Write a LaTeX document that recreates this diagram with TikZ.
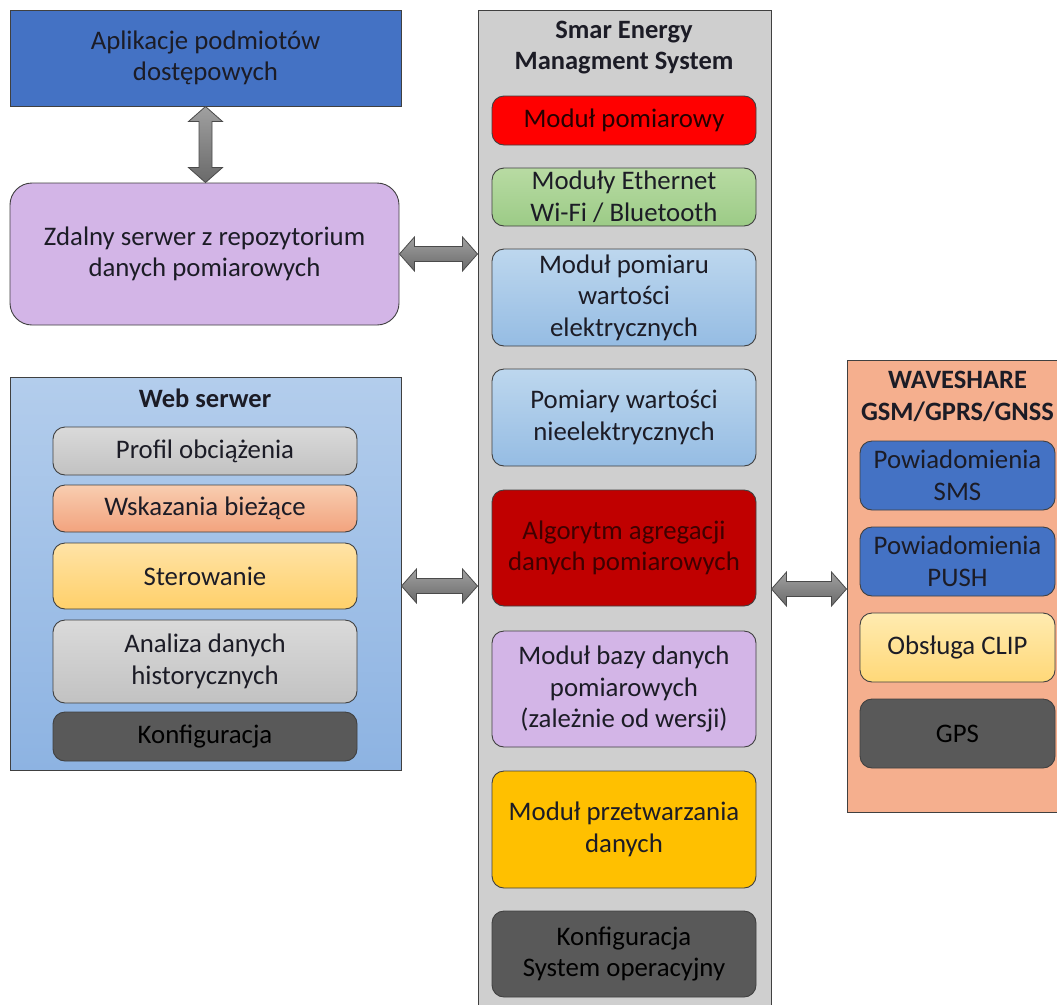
\documentclass[tikz,border=0pt]{standalone}
\usepackage{fontspec}
\setmainfont{Carlito}
\usetikzlibrary{calc}

\definecolor{ink}{HTML}{1C1C26}
\definecolor{edge}{HTML}{404040}
\definecolor{appblue}{HTML}{4472C4}
\definecolor{lavender}{HTML}{D3B5E7}
\definecolor{semsgray}{HTML}{CFCFCF}
\definecolor{webtop}{HTML}{B3CDEC}
\definecolor{webbot}{HTML}{8DB3E2}
\definecolor{wavefill}{HTML}{F5AF8E}
\definecolor{arrowtop}{HTML}{A0A0A0}
\definecolor{arrowbot}{HTML}{6A6A6A}
\definecolor{arrowline}{HTML}{4A4A4A}
\definecolor{greytop}{HTML}{DADADA}
\definecolor{greybot}{HTML}{C2C2C2}
\definecolor{salmontop}{HTML}{F8CDB0}
\definecolor{salmonbot}{HTML}{F2A37E}
\definecolor{yellowtop}{HTML}{FFE3A6}
\definecolor{yellowbot}{HTML}{FFD06A}
\definecolor{darkbox}{HTML}{595959}
\definecolor{redbox}{HTML}{FF0000}
\definecolor{darkred}{HTML}{C00000}
\definecolor{greentop}{HTML}{B8DBA3}
\definecolor{greenbot}{HTML}{9CCB86}
\definecolor{lbluetop}{HTML}{BDD7EE}
\definecolor{lbluebot}{HTML}{95BCE3}
\definecolor{gold}{HTML}{FFC000}
\definecolor{cliptop}{HTML}{FFEBB0}
\definecolor{clipbot}{HTML}{FFD878}

\tikzset{
  panel/.style={draw=edge, line width=1pt, inner sep=0pt, align=center, text=ink},
  mod/.style={draw=edge, line width=0.9pt, rounded corners=12pt, inner sep=0pt,
              align=center, text=ink},
  heading/.style={align=center, text=ink, font=\fontsize{26.5}{31.5}\selectfont\bfseries},
  dblarrow/.style={draw=arrowline, line width=0.8pt, top color=arrowtop, bottom color=arrowbot},
  greybox/.style={top color=greytop, bottom color=greybot},
  bluebox/.style={top color=lbluetop, bottom color=lbluebot},
  semsbox/.style={mod, minimum width=264pt},
  webbox/.style={mod, minimum width=304pt},
  wavebox/.style={mod, minimum width=195pt, minimum height=69pt},
}

% double-headed block arrow between two points at the same height
\newcommand\hdblarrow[2]{%
  \path[dblarrow] let \p1=(#1), \p2=(#2) in
    (\x1,\y1) -- (\x1+15pt,\y1+17pt) -- (\x1+15pt,\y1+7.5pt) -- (\x2-15pt,\y1+7.5pt)
    -- (\x2-15pt,\y1+17pt) -- (\x2,\y1) -- (\x2-15pt,\y1-17pt) -- (\x2-15pt,\y1-7.5pt)
    -- (\x1+15pt,\y1-7.5pt) -- (\x1+15pt,\y1-17pt) -- cycle;}
% double-headed block arrow between two points on the same vertical
\newcommand\vdblarrow[2]{%
  \path[dblarrow] let \p1=(#1), \p2=(#2) in
    (\x1,\y1) -- (\x1+17pt,\y1-15pt) -- (\x1+6.5pt,\y1-15pt) -- (\x1+6.5pt,\y2+15pt)
    -- (\x1+17pt,\y2+15pt) -- (\x1,\y2) -- (\x1-17pt,\y2+15pt) -- (\x1-6.5pt,\y2+15pt)
    -- (\x1-6.5pt,\y1-15pt) -- (\x1-17pt,\y1-15pt) -- cycle;}

\begin{document}
\begin{tikzpicture}[x=1pt, y=-1pt, font=\fontsize{26.8}{31.5}\selectfont]
\useasboundingbox[fill=white] (0,0) rectangle (1057,1004);

% ---- left column ----
\node[panel, fill=appblue, minimum width=391pt, minimum height=96pt] (apl) at (205.5,58)
  {Aplikacje podmiotów\\dostępowych};
\node[mod, rounded corners=22pt, fill=lavender, minimum width=389pt, minimum height=142pt] (zs)
  at (204.5,254) {Zdalny serwer z repozytorium\\danych pomiarowych};

\node[panel, top color=webtop, bottom color=webbot, minimum width=391pt, minimum height=393pt]
  (web) at (205.5,573.5) {};
\node[heading] (webt) at (205,398) {Web serwer};
\node[webbox, greybox, minimum height=48pt] (prof) at (205,451) {Profil obciążenia};
\node[webbox, top color=salmontop, bottom color=salmonbot, minimum height=47pt] (wsk)
  at (205,508.5) {Wskazania bieżące};
\node[webbox, top color=yellowtop, bottom color=yellowbot, minimum height=66pt] (ster)
  at (205,576) {Sterowanie};
\node[webbox, greybox, minimum height=83pt] (anal) at (205,661.5) {Analiza danych\\historycznych};
\node[webbox, fill=darkbox, text=black, minimum height=49pt] (wkonf) at (205,736.5) {Konfiguracja};

% ---- central column: Smart Energy Management System ----
\node[panel, fill=semsgray, minimum width=293pt, minimum height=1000pt] (sems) at (624.5,510) {};
\node[heading] (semst) at (624,47.5) {Smar Energy\\Managment System};
\node[semsbox, fill=redbox, text=black!85!red, minimum height=49pt] (pom) at (624,120.5)
  {Moduł pomiarowy};
\node[semsbox, top color=greentop, bottom color=greenbot, minimum height=58pt] (eth) at (624,197)
  {Moduły Ethernet\\Wi-Fi / Bluetooth};
\node[semsbox, bluebox, minimum height=97pt] (elec) at (624,297.5)
  {Moduł pomiaru\\wartości\\elektrycznych};
\node[semsbox, bluebox, minimum height=97pt] (niel) at (624,417.5)
  {Pomiary wartości\\nieelektrycznych};
\node[semsbox, fill=darkred, text=black!75!red, minimum height=116pt] (algo) at (624,548)
  {Algorytm agregacji\\danych pomiarowych};
\node[semsbox, fill=lavender, minimum height=116pt] (baza) at (624,689)
  {Moduł bazy danych\\pomiarowych\\(zależnie od wersji)};
\node[semsbox, fill=gold, minimum height=117pt] (przet) at (624,829.5)
  {Moduł przetwarzania\\danych};
\node[semsbox, fill=darkbox, text=black, minimum height=86pt] (skonf) at (624,954)
  {Konfiguracja\\System operacyjny};

% ---- right column: WAVESHARE modem ----
\node[panel, fill=wavefill, minimum width=215pt, minimum height=452pt] (wave) at (954.5,586) {};
\node[heading] (wavet) at (957.5,396.5) {WAVESHARE\\GSM/GPRS/GNSS};
\node[wavebox, fill=appblue] (sms) at (957.5,475.5) {Powiadomienia\\SMS};
\node[wavebox, fill=appblue] (push) at (957.5,561.5) {Powiadomienia\\PUSH};
\node[wavebox, top color=cliptop, bottom color=clipbot] (clip) at (957.5,647.5) {Obsługa CLIP};
\node[wavebox, fill=darkbox, text=black] (gps) at (957.5,733.5) {GPS};

% ---- block arrows ----
\coordinate (va) at (apl.south);
\coordinate (vb) at (apl.south |- zs.north);
\vdblarrow{va}{vb}

\coordinate (h1a) at (zs.east);
\coordinate (h1b) at (sems.west |- zs.east);
\hdblarrow{h1a}{h1b}

\coordinate (h2a) at ([yshift=-12.5pt]web.east);
\coordinate (h2b) at (sems.west |- h2a);
\hdblarrow{h2a}{h2b}

\coordinate (h3b) at ([yshift=-3pt]wave.west);
\coordinate (h3a) at (sems.east |- h3b);
\hdblarrow{h3a}{h3b}
\end{tikzpicture}
\end{document}
